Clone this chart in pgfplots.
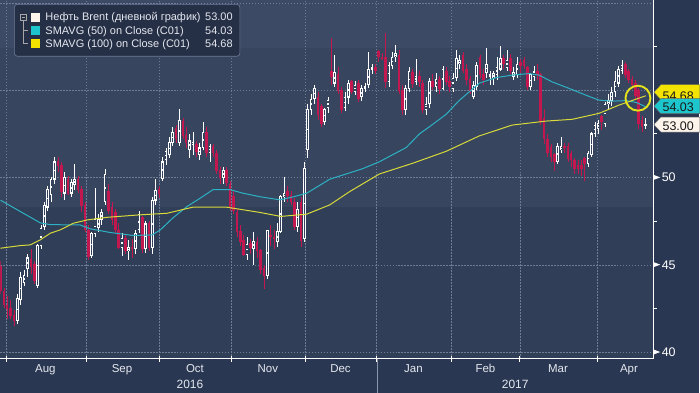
\documentclass[border=0pt]{standalone}
\usepackage{pgfplots}
\pgfplotsset{compat=1.18}
\usepackage{pgfplotstable}
\usepackage{fontspec}
\setmainfont{Liberation Sans}
\definecolor{bgA}{HTML}{3D4A66}
\definecolor{bgB}{HTML}{37455F}
\definecolor{bgC}{HTML}{303E58}
\definecolor{outer}{HTML}{2A3752}
\definecolor{gridc}{HTML}{6E7C98}
\definecolor{candred}{HTML}{C2184F}
\definecolor{macyan}{HTML}{2DB2C4}
\definecolor{mayellow}{HTML}{D8DA3A}
\definecolor{legbg}{HTML}{252F46}
\definecolor{hollow}{HTML}{34435D}
\definecolor{tagyellow}{HTML}{F2E400}
\definecolor{tagcyan}{HTML}{1CC6CC}
\definecolor{tagwhite}{HTML}{FDF5EC}
\definecolor{txt}{HTML}{E4E8EE}
\definecolor{circ}{HTML}{E6E21A}

\pgfplotstableread{
i o h l c
-3 44.9 45.2 43.3 43.5
-2 43.5 43.7 42.5 42.7
-1 42.7 43.2 41.9 42.5
0 42.5 43.0 41.9 42.1
1 42.1 42.4 41.5 41.8
2 41.8 43.3 41.6 43.1
3 43.0 44.6 42.7 44.3
4 44.0 44.7 43.8 44.4
5 44.8 45.6 44.3 45.4
6 45.3 45.9 44.5 44.9
7 45.0 45.2 43.9 44.1
8 43.8 46.2 43.7 46.1
9 46.1 47.3 45.9 47.1
10 47.2 48.6 47.0 48.4
11 48.3 49.5 48.1 49.3
12 49.0 50.0 48.6 49.9
13 49.9 51.2 49.6 50.9
14 50.9 51.2 50.3 50.7
15 50.7 50.9 48.9 49.2
16 49.1 50.3 48.7 50.0
17 49.9 50.1 49.0 49.1
18 49.1 49.9 48.9 49.7
19 49.6 50.8 49.3 49.9
20 49.9 50.1 49.1 49.3
21 49.3 49.5 48.0 48.4
22 48.4 48.6 46.9 47.0
23 47.0 47.3 45.3 45.45
24 45.5 46.9 45.4 46.8
25 46.8 49.4 46.6 47.6
26 47.1 47.9 46.9 47.6
27 47.6 48.2 47.3 48.0
28 48.6 50.5 48.4 50.2
29 49.2 49.6 47.9 48.1
30 48.3 48.6 47.3 47.6
31 48.0 48.2 46.8 47.0
32 47.0 47.4 45.9 46.0
33 46.0 46.8 45.5 46.5
34 46.5 46.7 45.6 45.8
35 45.8 46.4 45.3 46.0
36 46.0 46.5 45.4 45.9
37 45.9 47.0 45.6 46.8
38 47.0 48.1 46.8 47.9
39 47.7 47.8 45.7 45.9
40 45.9 47.5 45.7 47.35
41 47.35 47.5 45.8 46.0
42 46.0 48.9 45.6 48.7
43 48.7 49.9 48.4 49.25
44 49.3 49.5 48.8 49.05
45 49.95 51.2 49.8 50.9
46 51.0 51.7 50.7 51.5
47 51.3 52.3 51.1 52.0
48 52.0 52.9 51.8 52.6
49 52.8 53.0 52.0 52.2
50 52.0 53.9 51.8 53.3
51 53.2 53.4 52.2 52.4
52 52.4 52.9 51.7 52.0
53 51.6 52.5 51.1 52.1
54 51.8 52.6 51.3 52.0
55 51.9 52.1 51.2 51.5
56 51.3 52.0 51.0 51.7
57 51.7 53.2 51.6 52.6
58 52.6 52.9 51.2 51.4
59 51.4 51.9 50.9 51.8
60 51.8 51.9 51.2 51.4
61 51.4 51.6 50.2 50.4
62 50.4 50.6 49.6 50.0
63 50.0 50.6 49.6 50.4
64 50.4 50.6 49.5 49.7
65 49.6 49.8 48.1 48.3
66 48.9 49.3 47.9 48.1
67 48.0 48.2 46.6 46.9
68 46.9 47.3 46.1 46.35
69 46.4 46.7 45.5 45.6
70 45.6 46.6 45.3 46.15
71 46.2 46.5 45.6 46.0
72 45.9 46.9 45.0 46.35
73 46.3 46.6 45.4 45.8
74 45.8 45.9 44.5 44.75
75 44.8 45.0 43.6 44.4
76 44.4 47.0 44.2 46.95
77 46.7 47.3 46.1 46.6
78 46.6 47.0 45.9 46.5
79 46.3 47.4 46.0 46.9
80 46.9 49.0 46.8 48.9
81 48.9 50.0 48.6 49.1
82 49.2 49.5 48.6 48.95
83 49.0 49.2 48.4 48.6
84 48.6 48.8 47.0 47.2
85 47.2 48.6 46.9 48.2
86 48.6 48.9 46.0 46.4
87 46.5 50.9 46.3 50.5
88 51.6 54.2 51.1 53.9
89 53.9 54.8 53.6 54.5
90 54.5 55.3 54.2 55.1
91 54.6 54.9 53.3 53.6
92 54.1 54.2 52.9 53.1
93 53.2 54.0 53.0 53.9
94 54.0 54.6 53.7 54.4
95 56.1 58.0 55.3 55.8
96 55.4 57.0 55.2 56.0
97 55.9 56.3 54.8 55.0
98 55.0 55.2 53.7 53.9
99 54.0 54.9 53.8 54.6
100 54.6 55.6 54.2 55.4
101 55.5 55.6 54.8 54.9
102 54.9 55.5 54.7 55.3
103 55.4 55.6 54.3 54.5
104 54.6 55.3 54.4 55.1
105 55.1 55.4 54.9 55.2
106 55.3 57.2 55.1 56.2
107 56.2 56.5 55.9 56.3
108 56.3 56.5 55.9 56.1
109 57.2 57.3 56.6 56.9
110 56.9 57.1 56.7 56.8
111 56.9 58.3 55.1 55.5
112 55.5 56.6 55.2 56.4
113 56.4 57.2 56.2 56.9
114 56.9 57.6 56.6 57.1
115 57.0 57.3 54.8 55.0
116 55.0 55.3 53.6 53.9
117 53.9 55.3 53.6 55.1
118 55.1 56.3 54.9 56.1
119 56.0 56.2 55.1 55.4
120 55.5 56.8 55.3 55.8
121 55.8 56.1 55.2 55.5
122 55.4 55.6 53.7 53.9
123 53.9 54.6 53.6 54.2
124 54.2 55.7 54.0 55.5
125 55.5 55.9 55.0 55.2
126 55.2 56.0 54.9 55.6
127 55.6 55.8 54.8 55.1
128 55.1 56.4 55.0 56.2
129 56.1 56.3 55.3 55.5
130 55.5 55.8 54.9 55.2
131 55.1 56.0 54.9 55.7
132 55.7 57.3 55.5 56.8
133 56.5 57.0 56.2 56.7
134 57.0 57.2 56.0 56.1
135 56.2 56.5 55.3 55.6
136 55.6 55.8 54.8 55.0
137 54.6 55.5 54.5 55.3
138 55.2 56.6 55.0 56.4
139 56.9 57.0 55.7 55.9
140 55.9 56.2 55.3 55.6
141 56.0 57.4 55.7 56.5
142 55.8 56.1 55.3 55.9
143 55.7 56.1 55.3 55.95
144 55.9 56.9 55.6 56.3
145 56.2 57.5 56.1 56.8
146 56.8 57.0 56.2 56.5
147 56.3 57.3 56.1 56.7
148 56.8 57.1 55.9 56.1
149 55.8 56.3 55.6 56.0
150 55.9 56.9 55.7 56.5
151 56.6 56.8 56.0 56.4
152 56.7 56.9 56.2 56.4
153 56.3 56.4 55.0 55.2
154 55.2 56.0 55.0 55.9
155 55.8 56.4 55.5 56.05
156 56.1 56.5 55.6 55.9
157 55.9 56.0 53.0 53.2
158 53.4 53.9 51.9 52.2
159 52.2 52.5 51.2 51.4
160 51.7 51.9 50.9 51.2
161 51.3 51.4 50.4 50.9
162 50.9 52.0 50.8 51.8
163 51.6 52.3 51.4 51.8
164 51.8 52.0 51.4 51.7
165 51.8 52.0 50.9 51.1
166 51.4 51.5 50.6 51.0
167 51.0 51.1 50.2 50.5
168 50.7 51.0 50.2 50.5
169 50.7 51.0 50.1 50.5
170 51.1 51.2 49.8 50.8
171 50.8 51.5 50.6 51.4
172 51.3 52.6 51.2 52.5
173 52.5 53.2 52.3 53.0
174 52.8 53.3 52.5 53.1
175 53.5 53.6 52.7 53.2
176 53.1 54.3 52.9 54.2
177 54.2 54.8 53.9 54.4
178 54.4 55.2 54.1 54.9
179 54.9 56.1 54.6 55.5
180 55.4 56.4 55.2 56.2
181 56.1 56.7 55.9 56.4
182 56.5 56.6 55.7 55.9
183 56.1 56.2 55.4 55.6
184 55.6 55.8 55.2 55.3
185 55.4 55.6 54.5 54.7
186 55.0 55.1 52.8 53.1
187 53.3 53.5 52.6 52.9
188 52.95 53.4 52.8 53.05
}\ohlc

\newcommand{\trimark}{\tikz[baseline=-4.4pt]\fill[white] (0,-2.6pt) -- (7pt,0) -- (0,2.6pt) -- cycle;}

\pgfplotsset{candle/.style={only marks, mark=*, mark size=0pt,
  mark options={draw=none, fill=none}, forget plot, restrict y to domain=30:70}}

\begin{document}
\begin{tikzpicture}
\begin{scope}[x=1pt,y=1pt]
\useasboundingbox (0,0) rectangle (700,393);
\fill[outer] (0,0) rectangle (700,393);
\fill[bgC] (0,34) rectangle (654,186);
\fill[bgB] (0,186) rectangle (654,345);
\fill[bgA] (0,345) rectangle (654,393);
\end{scope}
\begin{axis}[
  at={(0pt,34pt)}, anchor=south west,
  scale only axis, width=654pt, height=359pt,
  xmin=-3.01, xmax=190.2, ymin=39.63, ymax=60.14,
  axis x line*=bottom, axis y line*=right,
  axis line style={white, line width=0.8pt},
  xtick={-1.24,22.3,44.0,65.4,87.4,108.4,130.6,150.8,173.7},
  xticklabels={},
  extra x ticks={10.3,33.0,54.6,76.2,97.7,119.3,140.6,162.1,183.1},
  extra x tick labels={Aug,Sep,Oct,Nov,Dec,Jan,Feb,Mar,Apr},
  extra x tick style={xmajorgrids=false, major tick length=0pt},
  xticklabel style={font=\fontsize{11.5}{13}\selectfont, text=txt, anchor=base, yshift=-13.5pt},
  xtick align=center, major tick length=6pt,
  x tick style={white, line width=0.7pt},
  xmajorgrids=true, ymajorgrids=true,
  major grid style={draw=gridc, dash pattern=on 1.5pt off 1.5pt, line width=0.5pt},
  ytick={40,45,50},
  yticklabel={\trimark\hspace{1.5pt}\pgfmathprintnumber[assume math mode=true]{\tick}},
  yticklabel style={font=\fontsize{12.5}{14}\selectfont, text=white, anchor=west, inner sep=0pt, xshift=0.2pt},
  yticklabel pos=right,
  extra y ticks={55,60}, extra y tick labels={},
  y tick style={draw=none},
]
% wicks
\addplot[candle,
  error bars/.cd, y dir=both, y explicit, error mark=none,
  error bar style={white, line width=0.6pt}]
  table[x=i, y expr={\thisrow{c}>=\thisrow{o} ? (\thisrow{h}+\thisrow{l})/2 : 100},
        y error expr={(\thisrow{h}-\thisrow{l})/2}] {\ohlc};
\addplot[candle,
  error bars/.cd, y dir=both, y explicit, error mark=none,
  error bar style={candred, line width=0.6pt}]
  table[x=i, y expr={\thisrow{c}<\thisrow{o} ? (\thisrow{h}+\thisrow{l})/2 : 100},
        y error expr={(\thisrow{h}-\thisrow{l})/2}] {\ohlc};
% up bodies (hollow)
\addplot[candle,
  error bars/.cd, y dir=both, y explicit, error mark=none,
  error bar style={white, line width=2.6pt}]
  table[x=i, y expr={\thisrow{c}>=\thisrow{o} ? (\thisrow{o}+\thisrow{c})/2 : 100},
        y error expr={abs(\thisrow{c}-\thisrow{o})/2+0.02}] {\ohlc};
\addplot[candle,
  error bars/.cd, y dir=both, y explicit, error mark=none,
  error bar style={hollow, line width=1.1pt, shorten <=0.75pt, shorten >=0.75pt}]
  table[x=i, y expr={(\thisrow{c}-\thisrow{o})>0.12 ? (\thisrow{o}+\thisrow{c})/2 : 100},
        y error expr={abs(\thisrow{c}-\thisrow{o})/2}] {\ohlc};
% down bodies (filled)
\addplot[candle,
  error bars/.cd, y dir=both, y explicit, error mark=none,
  error bar style={candred, line width=2.6pt}]
  table[x=i, y expr={\thisrow{c}<\thisrow{o} ? (\thisrow{o}+\thisrow{c})/2 : 100},
        y error expr={abs(\thisrow{c}-\thisrow{o})/2+0.02}] {\ohlc};
% SMAVG 50
\addplot[macyan, line width=1pt] coordinates {
(-3.0,48.70) (2.9,48.05) (8.8,47.40) (11.8,47.30) (20.6,47.28) (23.6,47.06)
(29.5,46.85) (36.3,46.68) (41.9,46.71) (44.3,46.99) (48.1,47.69) (52.2,48.33)
(56.1,48.81) (59.9,49.30) (64.9,49.31) (68.8,49.10) (73.8,48.90) (79.7,48.72)
(83.5,48.88) (87.7,49.10) (94.5,49.90) (104.2,50.50) (109.2,50.90) (117.2,51.72)
(121.1,52.50) (124.0,52.90) (129.0,53.62) (132.8,54.40) (138.8,55.40) (143.8,55.72)
(148.5,55.86) (153.6,55.95) (156.5,55.86) (160.4,55.47) (165.4,55.10) (170.4,54.71)
(174.2,54.43) (178.1,54.37) (182.2,54.40) (185.2,54.30) (188.1,54.05)};
% SMAVG 100
\addplot[mayellow, line width=1pt] coordinates {
(-3.0,45.95) (2.9,46.10) (5.8,46.14) (8.8,46.43) (11.8,46.81) (14.7,47.00)
(18.6,47.38) (22.7,47.57) (28.6,47.72) (38.3,47.86) (46.3,47.95) (54.0,48.30)
(64.0,48.30) (67.9,48.18) (73.8,48.00) (80.0,47.77) (87.7,47.90) (94.5,48.43)
(100.4,49.19) (109.2,50.20) (119.0,50.81) (129.0,51.50) (138.8,52.38) (148.5,53.00)
(158.6,53.23) (166.3,53.33) (174.2,53.67) (180.1,54.14) (188.1,54.68)};
\end{axis}
\begin{scope}[x=1pt,y=1pt]
% minor ticks on price axis
\foreach \yy in {84.25,171.75,259.25,346.75} \draw[white, line width=0.7pt] (654,\yy) -- (658.5,\yy);
% year separator and labels
\draw[gridc!80!white, line width=0.6pt] (377.3,34) -- (377.3,0);
\node[anchor=base, inner sep=0, text=txt, font=\fontsize{12}{14}\selectfont] at (190,4) {2016};
\node[anchor=base, inner sep=0, text=txt, font=\fontsize{12}{14}\selectfont] at (516,4) {2017};
% highlight circle
\draw[circ, line width=1.9pt] (639,295) circle (12.5);
% price tags
\filldraw[fill=tagyellow, draw=black!60, line width=0.4pt] (655,301) -- (662,308.5) -- (701,308.5) -- (701,293.5) -- (662,293.5) -- cycle;
\node[anchor=base west, inner sep=0, font=\fontsize{12.5}{14}\selectfont, text=black!90] at (663.5,293) {54.68};
\filldraw[fill=tagcyan, draw=black!60, line width=0.4pt] (655,287) -- (662,294.5) -- (701,294.5) -- (701,279.5) -- (662,279.5) -- cycle;
\node[anchor=base west, inner sep=0, font=\fontsize{12.5}{14}\selectfont, text=black!90] at (663.5,281.5) {54.03};
\filldraw[fill=tagwhite, draw=black!60, line width=0.4pt] (655,268.5) -- (662,276) -- (701,276) -- (701,261) -- (662,261) -- cycle;
\node[anchor=base west, inner sep=0, font=\fontsize{12.5}{14}\selectfont, text=black!90] at (663.5,263) {53.00};
% legend
\filldraw[fill=legbg, draw=gridc, line width=0.6pt, rounded corners=3pt] (14,389) rectangle (240,337);
\draw[gray!70, line width=0.5pt] (20,373.5) rectangle (25.5,379);
\draw[gray!70, line width=0.5pt] (21.2,376.25) -- (24.3,376.25);
\draw[gray!70, line width=0.5pt] (22.75,373.5) -- (22.75,349.7) -- (28,349.7);
\draw[gray!70, line width=0.5pt] (22.75,363) -- (28,363);
\fill[tagwhite] (30.5,371.8) rectangle (39.5,380.8);
\fill[tagcyan] (30.5,358.5) rectangle (39.5,367.5);
\fill[tagyellow] (30.5,345.2) rectangle (39.5,354.2);
\begin{scope}[every node/.style={inner sep=0, text=txt, font=\fontsize{11}{13}\selectfont}]
\node[anchor=base west] at (45,372.6) {Нефть Brent (дневной график)};
\node[anchor=base west] at (45,359.3) {SMAVG (50) on Close (C01)};
\node[anchor=base west] at (45,346) {SMAVG (100) on Close (C01)};
\node[anchor=base east] at (233,372.6) {53.00};
\node[anchor=base east] at (233,359.3) {54.03};
\node[anchor=base east] at (233,346) {54.68};
\end{scope}
\end{scope}
\end{tikzpicture}
\end{document}
